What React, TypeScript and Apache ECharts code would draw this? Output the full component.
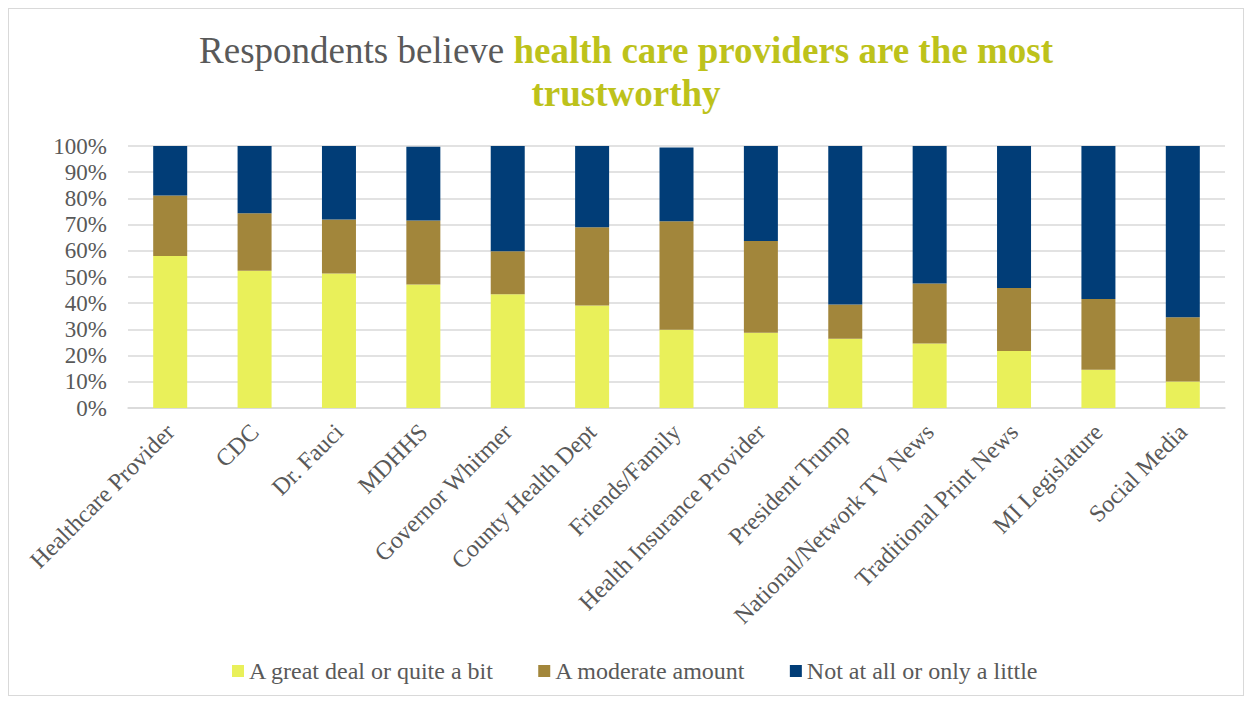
import React, { useEffect, useRef } from "react";
import * as echarts from "echarts";

const categories = [
  "Healthcare Provider",
  "CDC",
  "Dr. Fauci",
  "MDHHS",
  "Governor Whitmer",
  "County Health Dept",
  "Friends/Family",
  "Health Insurance Provider",
  "President Trump",
  "National/Network TV News",
  "Traditional Print News",
  "MI Legislature",
  "Social Media",
];

const greatDeal = [58, 52.4, 51.3, 47.1, 43.4, 39.1, 29.9, 28.7, 26.4, 24.6, 21.8, 14.6, 10.1];
const moderate = [23.1, 21.9, 20.6, 24.5, 16.4, 29.9, 41.4, 35.0, 13.1, 22.9, 24.0, 27.0, 24.5];
const notAtAll = [18.9, 25.7, 28.1, 28.1, 40.2, 31.0, 28.1, 36.3, 60.5, 52.5, 54.2, 58.4, 65.4];

const seriesNames = [
  "A great deal or quite a bit",
  "A moderate amount",
  "Not at all or only a little",
];
const yTicks = { min: 0, max: 100, interval: 10 };

const FONT = "Liberation Serif";
const GRAY = "#595959";

export default function App() {
  const ref = useRef<HTMLDivElement>(null);
  useEffect(() => {
    if (!ref.current) return;
    const chart = echarts.init(ref.current, null, { renderer: "svg" });
    const colors = ["#E9F05A", "#A2863B", "#013D77"];
    const datas = [greatDeal, moderate, notAtAll];
    chart.setOption({
      animation: false,
      textStyle: { fontFamily: FONT },
      title: {
        left: "center",
        top: 15,
        padding: [5, 5, 5, 17],
        text:
          "{a|Respondents believe }{b|health care providers are the most}\n{b|trustworthy}",
        textStyle: {
          fontFamily: FONT,
          fontSize: 37,
          rich: {
            a: {
              fontFamily: FONT,
              fontSize: 37,
              fontWeight: "normal",
              color: GRAY,
              lineHeight: 43,
            },
            b: {
              fontFamily: FONT,
              fontSize: 37,
              fontWeight: "bold",
              color: "#BDC21B",
              lineHeight: 43,
            },
          },
        },
      },
      legend: {
        top: 645,
        left: 218,
        itemWidth: 12,
        itemHeight: 12,
        itemGap: 44,
        icon: "rect",
        textStyle: { fontFamily: FONT, fontSize: 24, color: GRAY },
        data: seriesNames,
      },
      grid: { left: 119, right: 18, top: 137, bottom: 287, containLabel: false },
      xAxis: {
        type: "category",
        data: categories,
        axisTick: { show: false },
        axisLine: { lineStyle: { color: "#d9d9d9", width: 1.5 } },
        axisLabel: {
          rotate: 45,
          interval: 0,
          margin: 20,
          fontFamily: FONT,
          fontSize: 24,
          color: GRAY,
        },
      },
      yAxis: {
        type: "value",
        min: yTicks.min,
        max: yTicks.max,
        interval: yTicks.interval,
        axisLine: { show: false },
        axisTick: { show: false },
        splitLine: { lineStyle: { color: "#d9d9d9", width: 1.5 } },
        axisLabel: {
          formatter: "{value}%",
          fontFamily: FONT,
          fontSize: 23,
          color: GRAY,
          margin: 21,
        },
      },
      series: seriesNames.map((name, i) => ({
        name,
        type: "bar",
        stack: "total",
        barWidth: 34,
        itemStyle: { color: colors[i] },
        data: datas[i],
      })),
    });
    return () => chart.dispose();
  }, []);
  return (
    <div
      style={{
        width: 1236,
        height: 688,
        border: "1px solid #d9d9d9",
        boxSizing: "border-box",
        background: "#fff",
      }}
    >
      <div ref={ref} style={{ width: 1234, height: 686 }} />
    </div>
  );
}
